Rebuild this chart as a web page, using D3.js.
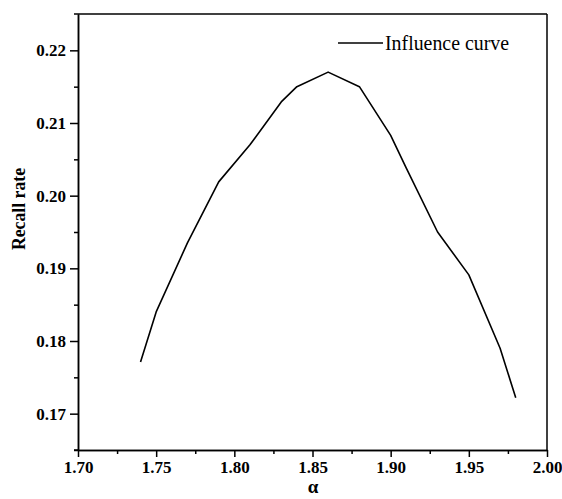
<!DOCTYPE html>
<html>
<head>
<meta charset="utf-8">
<script src="https://cdn.jsdelivr.net/npm/d3@7"></script>
<style>
  body { margin: 0; background: #fff; }
  #chart { width: 562px; height: 499px; }
  .axis path, .axis line { stroke: #000; stroke-width: 1.5px; }
</style>
</head>
<body>
<div id="chart"></div>
<script>
// data
const alphaValues = [1.74, 1.75, 1.77, 1.79, 1.81, 1.83, 1.84, 1.86, 1.88, 1.90, 1.91, 1.93, 1.95, 1.97, 1.98];
const recallValues = [0.1771, 0.1840, 0.1935, 0.2019, 0.2070, 0.2129, 0.2150, 0.2170, 0.2150, 0.2083, 0.2038, 0.1950, 0.1891, 0.1790, 0.1722];
const xTicks = [1.70, 1.75, 1.80, 1.85, 1.90, 1.95, 2.00];
const yTicks = [0.17, 0.18, 0.19, 0.20, 0.21, 0.22];
const seriesName = "Influence curve";

const serif = "'Liberation Serif', 'Times New Roman', serif";
const width = 562;
const height = 499;
const margin = { top: 14, left: 78, right: 15, bottom: 49 };

const svg = d3.select("#chart")
    .append("svg")
    .attr("width", width)
    .attr("height", height);

const data = alphaValues.map((a, i) => ({ alpha: a, recall: recallValues[i] }));

const xScale = d3.scaleLinear()
    .domain([1.70, 2.00])
    .range([margin.left, width - margin.right]);

const yScale = d3.scaleLinear()
    .domain([0.165, 0.225])
    .range([height - margin.bottom, margin.top]);

//frame lines on top and right
svg.append("line")
    .attr("x1", margin.left - 4).attr("x2", width - margin.right)
    .attr("y1", margin.top).attr("y2", margin.top)
    .attr("stroke", "#000").attr("stroke-width", 1.5);
svg.append("line")
    .attr("x1", width - margin.right).attr("x2", width - margin.right)
    .attr("y1", margin.top).attr("y2", height - margin.bottom)
    .attr("stroke", "#000").attr("stroke-width", 1.5);

//minor ticks first, major ticks on top
const xMinor = d3.range(1.725, 2.0, 0.05);
svg.append("g")
    .attr("class", "axis")
    .attr("transform", `translate(0,${height - margin.bottom})`)
    .call(d3.axisBottom(xScale).tickValues(xMinor).tickSize(4).tickSizeOuter(0).tickFormat(""));

const yMinor = d3.range(0.165, 0.225, 0.01);
svg.append("g")
    .attr("class", "axis")
    .attr("transform", `translate(${margin.left},0)`)
    .call(d3.axisLeft(yScale).tickValues(yMinor).tickSize(4).tickSizeOuter(0).tickFormat(""));

const xAxis = svg.append("g")
    .attr("class", "axis")
    .attr("transform", `translate(0,${height - margin.bottom})`)
    .call(d3.axisBottom(xScale).tickValues(xTicks).tickSize(7).tickSizeOuter(0).tickPadding(4).tickFormat(d3.format(".2f")));

const yAxis = svg.append("g")
    .attr("class", "axis")
    .attr("transform", `translate(${margin.left},0)`)
    .call(d3.axisLeft(yScale).tickValues(yTicks).tickSize(8).tickSizeOuter(0).tickPadding(4).tickFormat(d3.format(".2f")));

//tick labels in bold serif
svg.selectAll(".axis text")
    .attr("font-family", serif)
    .attr("font-weight", "bold")
    .attr("font-size", 17)
    .attr("fill", "#000");

//extend the bottom axis a little to the left like the original
svg.append("line")
    .attr("x1", margin.left - 4).attr("x2", margin.left)
    .attr("y1", height - margin.bottom).attr("y2", height - margin.bottom)
    .attr("stroke", "#000").attr("stroke-width", 1.5);

const line = d3.line()
    .x(d => xScale(d.alpha))
    .y(d => yScale(d.recall));

svg.append("path")
    .datum(data)
    .attr("d", line)
    .attr("fill", "none")
    .attr("stroke", "#000")
    .attr("stroke-width", 1.6)
    .attr("stroke-linejoin", "round");

//legend
svg.append("line")
    .attr("x1", 338).attr("x2", 383)
    .attr("y1", 43).attr("y2", 43)
    .attr("stroke", "#000").attr("stroke-width", 1.6);
svg.append("text")
    .attr("x", 385)
    .attr("y", 50)
    .attr("font-family", serif)
    .attr("font-size", 22)
    .attr("textLength", 124)
    .attr("lengthAdjust", "spacingAndGlyphs")
    .text(seriesName);

//axis labels
svg.append("text")
    .attr("transform", "rotate(-90)")
    .attr("x", -209)
    .attr("y", 25)
    .attr("text-anchor", "middle")
    .attr("font-family", serif)
    .attr("font-weight", "bold")
    .attr("font-size", 19)
    .attr("textLength", 82)
    .attr("lengthAdjust", "spacingAndGlyphs")
    .text("Recall rate");

svg.append("text")
    .attr("x", 313)
    .attr("y", 493)
    .attr("text-anchor", "middle")
    .attr("font-family", serif)
    .attr("font-weight", "bold")
    .attr("font-size", 19)
    .text("α");
</script>
</body>
</html>
